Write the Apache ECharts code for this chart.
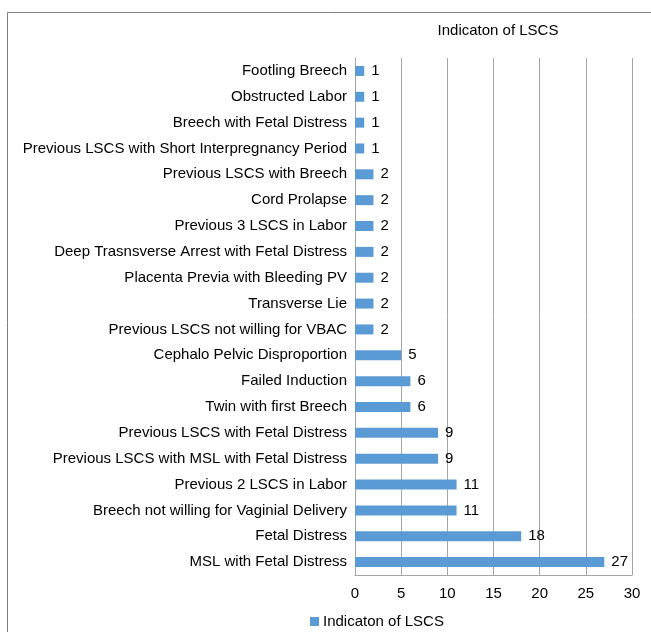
<!DOCTYPE html>
<html>
<head>
<meta charset="utf-8">
<script src="https://cdn.jsdelivr.net/npm/echarts@6/dist/echarts.min.js"></script>
<style>
  html, body { margin: 0; padding: 0; background: #fff; }
  #main { width: 651px; height: 632px; }
</style>
</head>
<body>
<div id="main"></div>
<script>
// categories, bottom to top
var categories = [
    'MSL with Fetal Distress',
    'Fetal Distress',
    'Breech not willing for Vaginial Delivery',
    'Previous 2 LSCS in Labor',
    'Previous LSCS with MSL with Fetal Distress',
    'Previous LSCS with Fetal Distress',
    'Twin with first Breech',
    'Failed Induction',
    'Cephalo Pelvic Disproportion',
    'Previous LSCS not willing for VBAC',
    'Transverse Lie',
    'Placenta Previa with Bleeding PV',
    'Deep Trasnsverse Arrest with Fetal Distress',
    'Previous 3 LSCS in Labor',
    'Cord Prolapse',
    'Previous LSCS with Breech',
    'Previous LSCS with Short Interpregnancy Period',
    'Breech with Fetal Distress',
    'Obstructed Labor',
    'Footling Breech'
];
var counts = [27, 18, 11, 11, 9, 9, 6, 6, 5, 2, 2, 2, 2, 2, 2, 2, 1, 1, 1, 1];
var seriesName = 'Indicaton of LSCS';

var myChart = echarts.init(document.getElementById('main'));
var font = 'Liberation Sans, Arial, sans-serif';
var option = {
    animation: false,
    title: {
        text: seriesName,
        left: 493,
        textAlign: 'center',
        top: 18,
        textStyle: { fontFamily: font, fontSize: 15, fontWeight: 'normal', color: '#000' }
    },
    legend: {
        data: [{ name: seriesName, icon: 'rect' }],
        left: 305,
        top: 609,
        itemWidth: 9,
        itemHeight: 9,
        itemGap: 4,
        textStyle: { fontFamily: font, fontSize: 15, color: '#000', padding: [0, 0, 0, -1] }
    },
    grid: {
        left: 355,
        right: 19,
        top: 58,
        bottom: 57
    },
    xAxis: {
        type: 'value',
        min: 0,
        max: 30,
        interval: 5,
        axisLine: { show: true, lineStyle: { color: '#a6a6a6' } },
        axisTick: { show: false },
        axisLabel: { fontFamily: font, fontSize: 15, color: '#000', margin: 11 },
        splitLine: { show: true, lineStyle: { color: '#a6a6a6', width: 1 } }
    },
    yAxis: {
        type: 'category',
        data: categories,
        axisLine: { show: true, lineStyle: { color: '#a6a6a6' } },
        axisTick: { show: false },
        axisLabel: { fontFamily: font, fontSize: 15, color: '#000', margin: 8, padding: [3, 0, 0, 0] }
    },
    series: [{
        name: seriesName,
        type: 'bar',
        data: counts,
        barWidth: 10,
        itemStyle: { color: '#5b9bd5' },
        label: {
            show: true,
            position: 'right',
            distance: 7,
            fontFamily: font,
            fontSize: 15,
            color: '#000'
        }
    }],
    graphic: [{
        type: 'rect',
        shape: { x: 7.5, y: 12.5, width: 700, height: 700 },
        style: { fill: 'none', stroke: '#7f7f7f', lineWidth: 1 },
        silent: true
    }]
};
myChart.setOption(option);
</script>
</body>
</html>
